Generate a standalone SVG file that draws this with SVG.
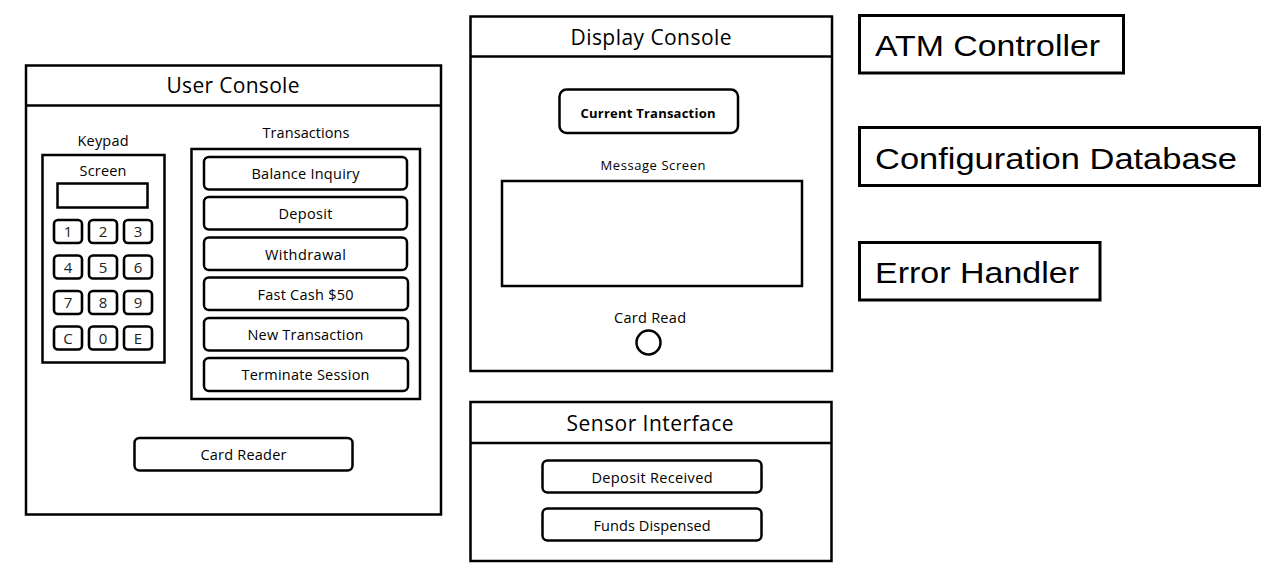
<svg xmlns="http://www.w3.org/2000/svg" width="1272" height="581" viewBox="0 0 1272 581">
<style>
.box{fill:#fff;stroke:#000;stroke-width:2.5}
.btn{fill:#fff;stroke:#000;stroke-width:2.5}
.key{fill:#fff;stroke:#000;stroke-width:2.6}
.big{fill:#fff;stroke:#000;stroke-width:3}
text{font-family:"Open Sans","Noto Sans",sans-serif;fill:#000;text-anchor:middle}
.title{font-size:21px}
.lbl{font-size:14.5px}
.sm{font-size:13px}
.digit{font-size:15px;fill:#222}
.bold{font-size:13px;font-weight:bold}
.arial{font-family:"Liberation Sans",Arial,sans-serif;font-size:30px;text-anchor:start;fill:#000}
</style>
<rect width="1272" height="581" fill="#fff"/>
<g id="connectors"></g>

<g id="user-console">
<rect class="box" x="26" y="65.5" width="415" height="449"/>
<line x1="26" y1="105.5" x2="441" y2="105.5" stroke="#000" stroke-width="2.5"/>
<text class="title" x="233" y="93" textLength="133">User Console</text>
</g>

<g id="keypad">
<text class="lbl" x="103" y="146" textLength="51">Keypad</text>
<rect class="box" x="42.5" y="155" width="122" height="207.5"/>
<text class="lbl" x="103" y="175.5" textLength="47">Screen</text>
<rect class="box" x="57.5" y="183.5" width="90" height="24"/>
<rect class="key" x="54" y="220" width="28" height="23" rx="4"/>
<rect class="key" x="89" y="220" width="28" height="23" rx="4"/>
<rect class="key" x="124" y="220" width="28" height="23" rx="4"/>
<rect class="key" x="54" y="255.5" width="28" height="23" rx="4"/>
<rect class="key" x="89" y="255.5" width="28" height="23" rx="4"/>
<rect class="key" x="124" y="255.5" width="28" height="23" rx="4"/>
<rect class="key" x="54" y="291" width="28" height="23" rx="4"/>
<rect class="key" x="89" y="291" width="28" height="23" rx="4"/>
<rect class="key" x="124" y="291" width="28" height="23" rx="4"/>
<rect class="key" x="54" y="326.5" width="28" height="23" rx="4"/>
<rect class="key" x="89" y="326.5" width="28" height="23" rx="4"/>
<rect class="key" x="124" y="326.5" width="28" height="23" rx="4"/>
<text class="digit" x="68" y="237">1</text>
<text class="digit" x="103" y="237">2</text>
<text class="digit" x="138" y="237">3</text>
<text class="digit" x="68" y="272.5">4</text>
<text class="digit" x="103" y="272.5">5</text>
<text class="digit" x="138" y="272.5">6</text>
<text class="digit" x="68" y="308">7</text>
<text class="digit" x="103" y="308">8</text>
<text class="digit" x="138" y="308">9</text>
<text class="digit" x="68" y="343.5">C</text>
<text class="digit" x="103" y="343.5">0</text>
<text class="digit" x="138" y="343.5">E</text>
</g>

<g id="transactions">
<text class="lbl" x="306" y="137.5" textLength="87">Transactions</text>
<rect class="box" x="191.5" y="149" width="228.5" height="250"/>
<rect class="btn" x="204" y="157" width="203" height="32.5" rx="5"/>
<text class="lbl" x="305.5" y="179" textLength="108">Balance Inquiry</text>
<rect class="btn" x="204" y="197" width="203" height="32.5" rx="5"/>
<text class="lbl" x="305.5" y="219" textLength="54">Deposit</text>
<rect class="btn" x="204" y="237.5" width="203" height="32.5" rx="5"/>
<text class="lbl" x="305.5" y="259.5" textLength="81">Withdrawal</text>
<rect class="btn" x="204" y="277.5" width="204" height="32.5" rx="5"/>
<text class="lbl" x="305.5" y="299.5" textLength="96">Fast Cash $50</text>
<rect class="btn" x="204" y="318" width="204" height="32.5" rx="5"/>
<text class="lbl" x="305.5" y="340" textLength="116">New Transaction</text>
<rect class="btn" x="204" y="358" width="204" height="33" rx="5"/>
<text class="lbl" x="305.5" y="380" textLength="128">Terminate Session</text>
</g>

<g id="card-reader">
<rect class="btn" x="134.5" y="438" width="218" height="32.5" rx="5"/>
<text class="lbl" x="243.5" y="459.5" textLength="86">Card Reader</text>
</g>

<g id="display-console">
<rect class="box" x="470.5" y="16.5" width="361.5" height="354.5"/>
<line x1="470.5" y1="56.5" x2="832" y2="56.5" stroke="#000" stroke-width="2.5"/>
<text class="title" x="651" y="45" textLength="161">Display Console</text>
<rect class="btn" x="559.5" y="89.5" width="178.5" height="43.5" rx="7"/>
<text class="bold" x="648" y="118" textLength="135">Current Transaction</text>
<text class="sm" x="653" y="170" textLength="105">Message Screen</text>
<rect class="box" x="502" y="181" width="300" height="105"/>
<text class="lbl" x="650" y="322.5" textLength="72">Card Read</text>
<circle cx="648.5" cy="342.5" r="12" fill="#fff" stroke="#000" stroke-width="2.5"/>
</g>

<g id="sensor-interface">
<rect class="box" x="470.5" y="402" width="361" height="159"/>
<line x1="470.5" y1="443" x2="831.5" y2="443" stroke="#000" stroke-width="2.5"/>
<text class="title" x="650" y="431" textLength="167">Sensor Interface</text>
<rect class="btn" x="542.5" y="460.5" width="219" height="32" rx="5"/>
<text class="lbl" x="652" y="482.5" textLength="121">Deposit Received</text>
<rect class="btn" x="542.5" y="508.5" width="219" height="32" rx="5"/>
<text class="lbl" x="652" y="530.5" textLength="117">Funds Dispensed</text>
</g>

<g id="atm-controller">
<rect class="big" x="859.5" y="15.5" width="264" height="57.5"/>
<text class="arial" x="875" y="56" textLength="225" lengthAdjust="spacingAndGlyphs">ATM Controller</text>
</g>

<g id="configuration-database">
<rect class="big" x="859.5" y="127.5" width="400" height="58"/>
<text class="arial" x="875" y="168.5" textLength="362" lengthAdjust="spacingAndGlyphs">Configuration Database</text>
</g>

<g id="error-handler">
<rect class="big" x="859.5" y="242.5" width="240.5" height="57.5"/>
<text class="arial" x="875" y="283" textLength="204" lengthAdjust="spacingAndGlyphs">Error Handler</text>
</g>
</svg>
